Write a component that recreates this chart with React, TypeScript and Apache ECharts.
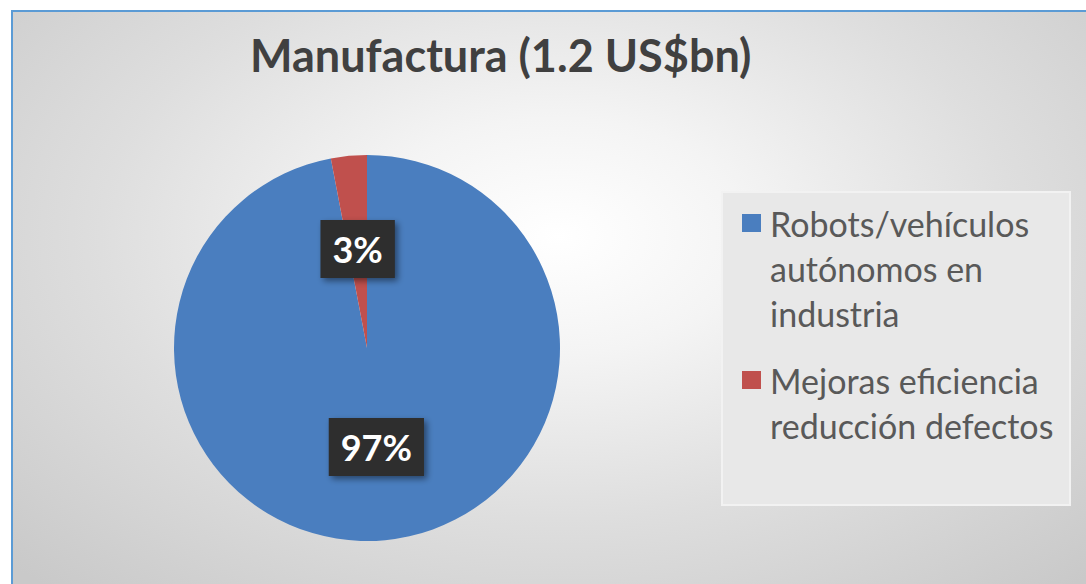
import React, { useEffect, useRef } from 'react';
import * as echarts from 'echarts';

const titleText = 'Manufactura (1.2 US$bn)';
const categories = [
  'Robots/vehículos autónomos en industria',
  'Mejoras eficiencia reducción defectos',
];
const legendLines = [
  ['Robots/vehículos', 'autónomos en', 'industria'],
  ['Mejoras eficiencia', 'reducción defectos'],
];
const values = [97, 3];
const colors = ['#4a7ebf', '#c0504d'];

export default function App() {
  const ref = useRef<HTMLDivElement>(null);
  useEffect(() => {
    if (!ref.current) return;
    const chart = echarts.init(ref.current, undefined, { renderer: 'svg' });
    const font = 'Lato, "Open Sans", sans-serif';
    chart.setOption({
      animation: false,
      backgroundColor: 'transparent',
      title: {
        text: titleText,
        left: 250,
        top: 32,
        padding: 0,
        textStyle: { fontSize: 45, fontWeight: 'bold', color: '#404040', fontFamily: font },
      },
      graphic: [
        {
          type: 'rect',
          z: 0,
          shape: { x: 722, y: 192, width: 348, height: 313 },
          style: { fill: '#e8e8e8', stroke: '#f2f2f2', lineWidth: 2 },
        },
      ],
      legend: {
        orient: 'vertical',
        left: 737,
        top: 206,
        padding: 0,
        itemGap: 33,
        itemWidth: 0,
        itemHeight: 0,
        itemStyle: { opacity: 0 },
        selectedMode: false,
        data: categories,
        formatter: (name: string) => {
          const i = categories.indexOf(name);
          return legendLines[i]
            .map((l, k) => (k === 0 ? `{m${i}|}{g|}` : '{p|}') + `{t|${l}}`)
            .join('\n');
        },
        textStyle: {
          fontFamily: font,
          rich: {
            m0: { width: 19, height: 18, backgroundColor: colors[0], lineHeight: 45 },
            m1: { width: 19, height: 18, backgroundColor: colors[1], lineHeight: 45 },
            g: { width: 9, lineHeight: 45 },
            p: { width: 28, lineHeight: 45 },
            t: { fontSize: 34, lineHeight: 45, color: '#595959', fontFamily: font },
          },
        },
      },
      series: [
        {
          type: 'pie',
          center: [367, 348],
          radius: 193,
          startAngle: 90,
          clockwise: true,
          silent: true,
          emphasis: { disabled: true },
          data: categories.map((c, i) => ({ name: c, value: values[i], itemStyle: { color: colors[i] } })),
          label: {
            show: true,
            position: 'inside',
            formatter: '{d}%',
            color: '#ffffff',
            fontSize: 36,
            fontWeight: 'bold',
            fontFamily: font,
            backgroundColor: '#2e2e2e',
            padding: [11, 12],
            shadowColor: 'rgba(0,0,0,0.45)',
            shadowBlur: 6,
            shadowOffsetX: 3,
            shadowOffsetY: 3,
          },
          labelLine: { show: false },
        },
      ],
    });
    return () => chart.dispose();
  }, []);

  return (
    <div
      style={{
        position: 'fixed',
        left: 0,
        top: 0,
        width: 1086,
        height: 584,
        background: '#ffffff',
        overflow: 'hidden',
      }}
    >
      <div
        style={{
          position: 'absolute',
          left: 11,
          top: 10,
          width: 1090,
          height: 590,
          borderTop: '2px solid #5b9bd5',
          borderLeft: '2px solid #5b9bd5',
          background:
            'radial-gradient(ellipse 70% 80% at 50% 38%, #ffffff 0%, #f4f4f4 25%, #dedede 60%, #c9c9c9 100%)',
        }}
      />
      <div ref={ref} style={{ position: 'absolute', left: 0, top: 0, width: 1086, height: 584 }} />
    </div>
  );
}
